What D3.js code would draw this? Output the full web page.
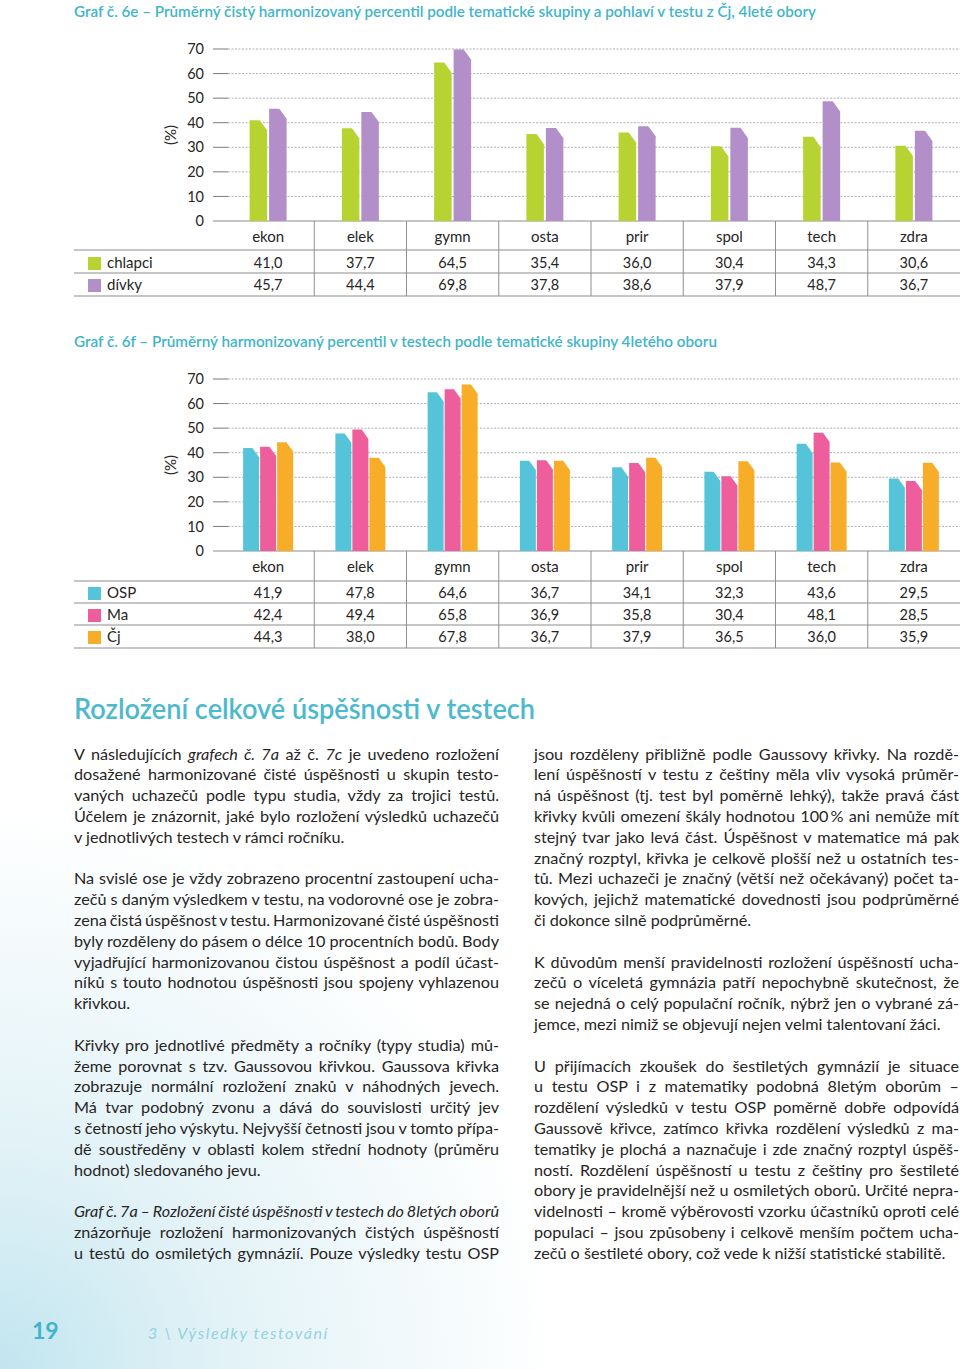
<!DOCTYPE html>
<html>
<head>
<meta charset="utf-8">
<script src="https://cdn.jsdelivr.net/npm/d3@7"></script>
<style>
  body { margin: 0; background: #fff; }
  svg { display: block; font-family: Lato, "Open Sans", sans-serif; }
</style>
</head>
<body>
<svg id="page" width="960" height="1369"></svg>
<script>
// categories and tick labels
const categories = ["ekon", "elek", "gymn", "osta", "prir", "spol", "tech", "zdra"];
const yTicks = [0, 10, 20, 30, 40, 50, 60, 70];

// Graf 6e: chlapci / dívky
const chlapci = [41.0, 37.7, 64.5, 35.4, 36.0, 30.4, 34.3, 30.6];
const divky   = [45.7, 44.4, 69.8, 37.8, 38.6, 37.9, 48.7, 36.7];

// Graf 6f: OSP / Ma / Čj
const osp = [41.9, 47.8, 64.6, 36.7, 34.1, 32.3, 43.6, 29.5];
const ma  = [42.4, 49.4, 65.8, 36.9, 35.8, 30.4, 48.1, 28.5];
const cj  = [44.3, 38.0, 67.8, 36.7, 37.9, 36.5, 36.0, 35.9];

const teal = "#3fb5ca";
const ink = "#262524";
const lineGrey = "#8e8e8e";

const svg = d3.select("#page");

// soft blue glow in the bottom left corner
const defs = svg.append("defs");
const grad = defs.append("radialGradient")
    .attr("id", "glow")
    .attr("gradientUnits", "userSpaceOnUse")
    .attr("cx", 0).attr("cy", 1369).attr("r", 560);
grad.append("stop").attr("offset", 0).attr("stop-color", "#c2e5ef");
grad.append("stop").attr("offset", 0.4).attr("stop-color", "#e2f2f7");
grad.append("stop").attr("offset", 1).attr("stop-color", "#ffffff");
svg.append("rect")
    .attr("x", 0).attr("y", 0).attr("width", 960).attr("height", 1369)
    .attr("fill", "url(#glow)");

const fmt = v => d3.format(".1f")(v).replace(".", ",");

// draw one bar chart + table under it
function drawChart(cfg) {
    const g = svg.append("g");

    const y = d3.scaleLinear().domain([0, 70]).range([cfg.y0, cfg.y70]);
    const x = d3.scaleBand().domain(categories).range([222, 960]);
    const xs = d3.scaleBand()
        .domain(cfg.series.map(s => s.name))
        .range([-cfg.half, cfg.half])
        .paddingInner(cfg.pad);

    // title
    g.append("text")
        .attr("x", 74).attr("y", cfg.titleY)
        .attr("font-size", 15).attr("font-weight", 600)
        .attr("fill", teal)
        .attr("textLength", cfg.titleW).attr("lengthAdjust", "spacingAndGlyphs")
        .text(cfg.title);

    // grid lines
    yTicks.forEach(t => {
        if (t === 0) {
            g.append("line")
                .attr("x1", 213).attr("x2", 960)
                .attr("y1", y(t)).attr("y2", y(t))
                .attr("stroke", lineGrey).attr("stroke-width", 1.2);
        } else {
            g.append("line")
                .attr("x1", 213).attr("x2", 228)
                .attr("y1", y(t)).attr("y2", y(t))
                .attr("stroke", "#7a7a7a").attr("stroke-width", 1);
            g.append("line")
                .attr("x1", 228).attr("x2", 960)
                .attr("y1", y(t)).attr("y2", y(t))
                .attr("stroke", "#9a9a9a").attr("stroke-width", 0.8)
                .attr("stroke-dasharray", "2,1.5");
        }
    });

    // y axis labels
    const axis = d3.axisLeft(y).tickValues(yTicks).tickSize(0).tickPadding(0);
    const ax = g.append("g").attr("transform", "translate(204,0)").call(axis);
    ax.select(".domain").remove();
    ax.selectAll("text")
        .attr("font-size", 14.5).attr("fill", ink)
        .attr("font-family", "Lato, sans-serif");

    g.append("text")
        .attr("transform", `translate(176,${(cfg.y0 + cfg.y70) / 2}) rotate(-90)`)
        .attr("text-anchor", "middle")
        .attr("font-size", 15).attr("fill", ink)
        .text("(%)");

    // bars with a cut top-right corner
    const bw = xs.bandwidth();
    cfg.series.forEach(s => {
        g.append("g").selectAll("path")
            .data(categories.map((c, i) => ({ c, v: s.values[i] })))
            .join("path")
            .attr("fill", s.color)
            .attr("d", d => {
                const x0 = x(d.c) + x.bandwidth() / 2 + xs(s.name);
                const x1 = x0 + bw;
                const yt = y(d.v), yb = y(0);
                const dx = bw * 0.42, dy = bw * 0.58;
                return `M${x0},${yb}L${x0},${yt}L${x1 - dx},${yt}L${x1},${yt + dy}L${x1},${yb}Z`;
            });
    });

    // table
    const tableBottom = cfg.rowLines[cfg.rowLines.length - 1];
    categories.forEach((c, i) => {
        if (i > 0) {
            g.append("line")
                .attr("x1", x(c)).attr("x2", x(c))
                .attr("y1", cfg.y0).attr("y2", tableBottom)
                .attr("stroke", lineGrey).attr("stroke-width", 1);
        }
        g.append("text")
            .attr("x", x(c) + x.bandwidth() / 2).attr("y", cfg.headY)
            .attr("text-anchor", "middle")
            .attr("font-size", 15).attr("fill", ink)
            .text(c);
    });
    cfg.rowLines.forEach(ly => {
        g.append("line")
            .attr("x1", 74).attr("x2", 960)
            .attr("y1", ly).attr("y2", ly)
            .attr("stroke", lineGrey).attr("stroke-width", 1.2);
    });
    cfg.series.forEach((s, r) => {
        const by = cfg.rowY[r];
        g.append("rect")
            .attr("x", 88).attr("y", by - 11)
            .attr("width", 13).attr("height", 13)
            .attr("fill", s.color);
        g.append("text")
            .attr("x", 107).attr("y", by)
            .attr("font-size", 15).attr("fill", ink)
            .text(s.name);
        g.append("g").selectAll("text")
            .data(s.values)
            .join("text")
            .attr("x", (v, i) => x(categories[i]) + x.bandwidth() / 2)
            .attr("y", by)
            .attr("text-anchor", "middle")
            .attr("font-size", 14.5).attr("fill", ink)
            .text(v => fmt(v));
    });
}

drawChart({
    title: "Graf č. 6e – Průměrný čistý harmonizovaný percentil podle tematické skupiny a pohlaví v testu z Čj, 4leté obory",
    titleY: 17, titleW: 742,
    y0: 221, y70: 49,
    half: 18.5, pad: 0.1,
    series: [
        { name: "chlapci", values: chlapci, color: "#b7d332" },
        { name: "dívky", values: divky, color: "#b28fc8" }
    ],
    headY: 242,
    rowLines: [250, 273, 296],
    rowY: [268, 290]
});

drawChart({
    title: "Graf č. 6f – Průměrný harmonizovaný percentil v testech podle tematické skupiny 4letého oboru",
    titleY: 347, titleW: 643,
    y0: 551, y70: 379,
    half: 25, pad: 0.06,
    series: [
        { name: "OSP", values: osp, color: "#55c4d8" },
        { name: "Ma", values: ma, color: "#ee5d9c" },
        { name: "Čj", values: cj, color: "#f8ad28" }
    ],
    headY: 572,
    rowLines: [581, 603, 625, 648],
    rowY: [598, 620, 642]
});

// section heading
svg.append("text")
    .attr("x", 74).attr("y", 719)
    .attr("font-size", 28).attr("font-weight", 600)
    .attr("fill", "#4cb9cd")
    .attr("textLength", 461).attr("lengthAdjust", "spacingAndGlyphs")
    .text("Rozložení celkové úspěšnosti v testech");

// body text, line by line, *...* = italic
const leftParas = [
    { lines: [
        "V následujících *grafech č. 7a* až č. *7c* je uvedeno rozložení",
        "dosažené harmonizované čisté úspěšnosti u skupin testo-",
        "vaných uchazečů podle typu studia, vždy za trojici testů.",
        "Účelem je znázornit, jaké bylo rozložení výsledků uchazečů",
        "v jednotlivých testech v rámci ročníku."] },
    { lines: [
        "Na svislé ose je vždy zobrazeno procentní zastoupení ucha-",
        "zečů s daným výsledkem v testu, na vodorovné ose je zobra-",
        "zena čistá úspěšnost v testu. Harmonizované čisté úspěšnosti",
        "byly rozděleny do pásem o délce 10 procentních bodů. Body",
        "vyjadřující harmonizovanou čistou úspěšnost a podíl účast-",
        "níků s touto hodnotou úspěšnosti jsou spojeny vyhlazenou",
        "křivkou."] },
    { lines: [
        "Křivky pro jednotlivé předměty a ročníky (typy studia) mů-",
        "žeme porovnat s tzv. Gaussovou křivkou. Gaussova křivka",
        "zobrazuje normální rozložení znaků v náhodných jevech.",
        "Má tvar podobný zvonu a dává do souvislosti určitý jev",
        "s četností jeho výskytu. Nejvyšší četnosti jsou v tomto přípa-",
        "dě soustředěny v oblasti kolem střední hodnoty (průměru",
        "hodnot) sledovaného jevu."] },
    { cont: true, lines: [
        "*Graf č. 7a – Rozložení čisté úspěšnosti v testech do 8letých oborů*",
        "znázorňuje rozložení harmonizovaných čistých úspěšností",
        "u testů do osmiletých gymnázií. Pouze výsledky testu OSP"] }
];

const rightParas = [
    { lines: [
        "jsou rozděleny přibližně podle Gaussovy křivky. Na rozdě-",
        "lení úspěšností v testu z češtiny měla vliv vysoká průměr-",
        "ná úspěšnost (tj. test byl poměrně lehký), takže pravá část",
        "křivky kvůli omezení škály hodnotou 100\u2009% ani nemůže mít",
        "stejný tvar jako levá část. Úspěšnost v matematice má pak",
        "značný rozptyl, křivka je celkově plošší než u ostatních tes-",
        "tů. Mezi uchazeči je značný (větší než očekávaný) počet ta-",
        "kových, jejichž matematické dovednosti jsou podprůměrné",
        "či dokonce silně podprůměrné."] },
    { lines: [
        "K důvodům menší pravidelnosti rozložení úspěšností ucha-",
        "zečů o víceletá gymnázia patří nepochybně skutečnost, že",
        "se nejedná o celý populační ročník, nýbrž jen o vybrané zá-",
        "jemce, mezi nimiž se objevují nejen velmi talentovaní žáci."] },
    { lines: [
        "U přijímacích zkoušek do šestiletých gymnázií je situace",
        "u testu OSP i z matematiky podobná 8letým oborům –",
        "rozdělení výsledků v testu OSP poměrně dobře odpovídá",
        "Gaussově křivce, zatímco křivka rozdělení výsledků z ma-",
        "tematiky je plochá a naznačuje i zde značný rozptyl úspěš-",
        "ností. Rozdělení úspěšností u testu z češtiny pro šestileté",
        "obory je pravidelnější než u osmiletých oborů. Určité nepra-",
        "videlnosti – kromě výběrovosti vzorku účastníků oproti celé",
        "populaci – jsou způsobeny i celkově menším počtem ucha-",
        "zečů o šestileté obory, což vede k nižší statistické stabilitě."] }
];

function drawColumn(paras, x0, width) {
    const lh = 20.8, firstBase = 759.5;
    let idx = 0;
    paras.forEach(p => {
        p.lines.forEach((ln, i) => {
            const last = i === p.lines.length - 1 && !p.cont;
            const t = svg.append("text")
                .attr("x", x0).attr("y", firstBase + idx * lh)
                .attr("font-size", 16.2).attr("fill", ink);
            ln.split("*").forEach((part, k) => {
                if (!part) return;
                t.append("tspan")
                    .attr("font-style", k % 2 ? "italic" : "normal")
                    .text(part);
            });
            const natural = t.node().getComputedTextLength();
            const spaces = (ln.match(/ /g) || []).length;
            if (spaces > 0 && (!last || natural > width)) {
                t.attr("word-spacing", (width - natural) / spaces);
            }
            idx++;
        });
        idx++;
    });
}
drawColumn(leftParas, 74, 425);
drawColumn(rightParas, 534, 425);

// footer
svg.append("text")
    .attr("x", 32).attr("y", 1339)
    .attr("font-size", 23).attr("font-weight", 700)
    .attr("fill", "#3fb4cb")
    .text("19");
svg.append("text")
    .attr("x", 148).attr("y", 1339)
    .attr("font-size", 16).attr("font-style", "italic")
    .attr("letter-spacing", 1.6)
    .attr("fill", "#95d2de")
    .text("3 \\ Výsledky testování");
</script>
</body>
</html>
